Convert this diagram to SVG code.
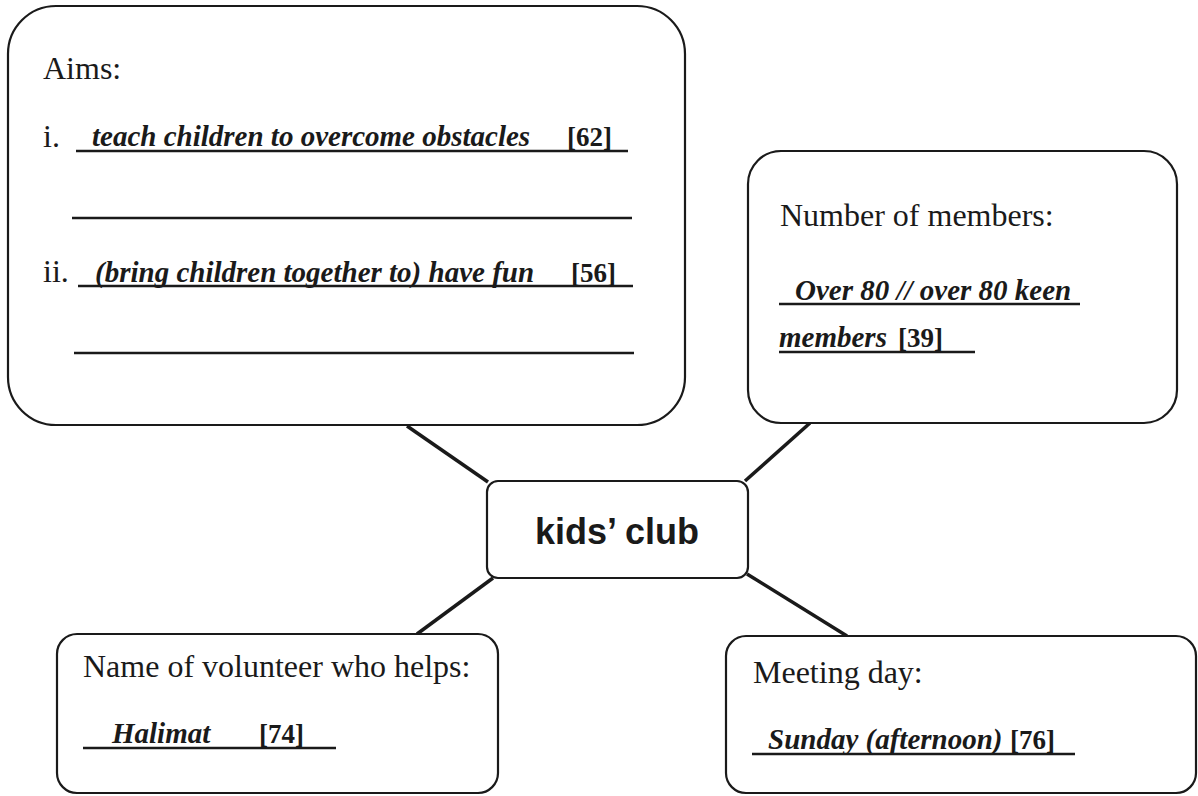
<svg xmlns="http://www.w3.org/2000/svg" width="1198" height="796" viewBox="0 0 1198 796">
<style>
.box{fill:#fff;stroke:#1a1a1a;stroke-width:2.2}
.conn{stroke:#1a1a1a;stroke-width:3.5;stroke-linecap:butt}
.ul{stroke:#1a1a1a;stroke-width:2.5}
.lbl{font-family:"Liberation Serif","Times New Roman",serif;font-size:32px;fill:#1a1a1a}
.ans{font-family:"Liberation Serif","Times New Roman",serif;font-size:29px;font-weight:bold;font-style:italic;fill:#1a1a1a}
.ref{font-family:"Liberation Serif","Times New Roman",serif;font-size:27px;font-weight:bold;fill:#1a1a1a}
.title{font-family:"Liberation Sans",Arial,sans-serif;font-size:36px;font-weight:bold;fill:#1a1a1a}
</style>
<rect width="1198" height="796" fill="#fff"/>
<g id="connectors">
<line class="conn" x1="407" y1="426" x2="488" y2="482"/>
<line class="conn" x1="810" y1="423" x2="745" y2="481"/>
<line class="conn" x1="493" y1="578" x2="417" y2="634"/>
<line class="conn" x1="747" y1="574" x2="847" y2="636"/>
</g>
<g id="aims">
<rect class="box" x="8" y="6" width="677" height="419" rx="48" ry="48"/>
<text class="lbl" x="43" y="79">Aims:</text>
<text class="lbl" x="43" y="147">i.</text>
<text class="ans" x="92" y="146">teach children to overcome obstacles</text>
<text class="ref" x="567" y="146">[62]</text>
<line class="ul" x1="76" y1="151" x2="628" y2="151"/>
<line class="ul" x1="72" y1="218" x2="632" y2="218"/>
<text class="lbl" x="43" y="282">ii.</text>
<text class="ans" x="95" y="282">(bring children together to) have fun</text>
<text class="ref" x="571" y="282">[56]</text>
<line class="ul" x1="78" y1="286" x2="633" y2="286"/>
<line class="ul" x1="74" y1="353" x2="634" y2="353"/>
</g>
<g id="members">
<rect class="box" x="748" y="151" width="429" height="272" rx="33" ry="33"/>
<text class="lbl" x="780" y="226">Number of members:</text>
<text class="ans" x="795" y="300">Over 80 // over 80 keen</text>
<line class="ul" x1="779" y1="304" x2="1080" y2="304"/>
<text class="ans" x="779" y="347">members</text>
<text class="ref" x="898" y="347">[39]</text>
<line class="ul" x1="779" y1="352" x2="975" y2="352"/>
</g>
<g id="kids-club">
<rect class="box" x="487" y="481" width="261" height="97" rx="11" ry="11"/>
<text class="title" x="617" y="544" text-anchor="middle">kids’ club</text>
</g>
<g id="volunteer">
<rect class="box" x="57" y="634" width="441" height="159" rx="20" ry="20"/>
<text class="lbl" x="83" y="677">Name of volunteer who helps:</text>
<text class="ans" x="112" y="743">Halimat</text>
<text class="ref" x="259" y="743">[74]</text>
<line class="ul" x1="83" y1="748" x2="336" y2="748"/>
</g>
<g id="meeting-day">
<rect class="box" x="726" y="636" width="470" height="157" rx="20" ry="20"/>
<text class="lbl" x="753" y="683">Meeting day:</text>
<text class="ans" x="768" y="749">Sunday (afternoon)</text>
<text class="ref" x="1010" y="749">[76]</text>
<line class="ul" x1="752" y1="754" x2="1075" y2="754"/>
</g>
</svg>
